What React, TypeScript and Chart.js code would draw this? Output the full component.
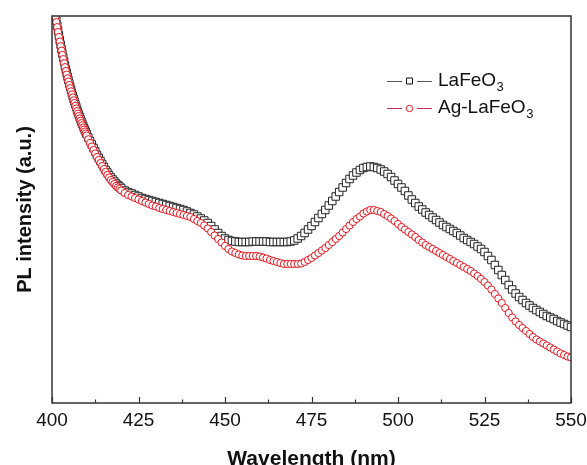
import React, { useEffect, useRef } from "react";
import { Chart, registerables } from "chart.js";

Chart.register(...registerables);

const FONT = "Arial, 'Liberation Sans', sans-serif";

// Wavelength (nm) – finer sampling where the curves fall steeply
const wavelengths = [
  400, 400.25, 400.5, 400.75, 401, 401.25, 401.5, 401.75, 402, 402.25, 402.5, 402.75,
  403, 403.25, 403.5, 403.75, 404, 404.25, 404.5, 404.75, 405, 405.25, 405.5, 405.75,
  406, 406.25, 406.5, 406.75, 407, 407.25, 407.5, 407.75, 408, 408.25, 408.5, 408.75,
  409, 409.25, 409.5, 409.75, 410, 410.5, 411, 411.5, 412, 412.5, 413, 413.5, 414, 414.5,
  415, 415.5, 416, 416.5, 417, 417.5, 418, 418.5, 419, 419.5, 420,
  421, 422, 423, 424, 425, 426, 427, 428, 429, 430, 431, 432, 433, 434, 435, 436, 437, 438, 439, 440,
  441, 442, 443, 444, 445, 446, 447, 448, 449, 450, 451, 452, 453, 454, 455, 456, 457, 458, 459, 460,
  461, 462, 463, 464, 465, 466, 467, 468, 469, 470, 471, 472, 473, 474, 475, 476, 477, 478, 479, 480,
  481, 482, 483, 484, 485, 486, 487, 488, 489, 490, 491, 492, 493, 494, 495, 496, 497, 498, 499, 500,
  501, 502, 503, 504, 505, 506, 507, 508, 509, 510, 511, 512, 513, 514, 515, 516, 517, 518, 519, 520,
  521, 522, 523, 524, 525, 526, 527, 528, 529, 530, 531, 532, 533, 534, 535, 536, 537, 538, 539, 540,
  541, 542, 543, 544, 545, 546, 547, 548, 549, 550,
];

// PL intensity (a.u.) of LaFeO3
const laFeO3 = [
  409.5, 403.8, 398.2, 392.8, 387.5, 382.4, 377.4, 372.4, 367.5, 362.9, 358.3, 353.9,
  349.5, 345.4, 341.3, 337.4, 333.5, 329.9, 326.3, 322.9, 319.5, 316.3, 313.2, 310.1,
  307, 304.2, 301.4, 298.7, 296, 293.4, 290.9, 288.4, 286, 283.7, 281.4, 279.2,
  277, 275, 273, 271, 269, 265.5, 262, 258.5, 255, 251.5, 248, 245, 242, 239,
  236, 233, 230.5, 228, 225.5, 223.5, 221.5, 219.5, 218, 216.5, 215,
  212.5, 211, 209.5, 208, 206.5, 205, 204, 203, 202, 201, 200, 199, 198, 197, 196, 195, 194, 193, 191.5, 190,
  188.5, 186.5, 184.5, 182.5, 180, 177, 173.5, 170, 167, 164.5, 163, 162, 161.5, 161, 161, 161, 161, 161.5, 161.5, 161.5,
  161.5, 161.5, 161, 161, 161, 161, 161, 161, 161.5, 162.5, 164.5, 167, 170, 173.5, 177, 181, 185, 189, 193, 197.5,
  202, 206.5, 211, 215.5, 220, 224, 227.5, 230.5, 233, 235, 236, 236.5, 236, 235, 233.5, 231.5, 229, 226, 222.5, 219,
  215.5, 212, 207.5, 203.5, 200, 196.5, 193.5, 190.5, 188, 185.5, 183, 180.5, 178, 176, 174, 172, 170, 167.5, 165, 163,
  161, 159, 156.5, 154, 151, 147, 143, 138, 133, 128, 123, 118, 113.5, 109.5, 106, 103, 100, 97.5, 95, 93,
  91, 89, 87, 85.5, 84, 82, 80.5, 79, 77.5, 76,
];

// PL intensity (a.u.) of Ag-LaFeO3
const agLaFeO3 = [
  408, 402.3, 396.7, 391.3, 386, 380.9, 375.9, 370.9, 366, 361.4, 356.8, 352.4,
  348, 343.9, 339.8, 335.9, 332, 328.4, 324.8, 321.4, 318, 314.8, 311.7, 308.6,
  305.5, 302.7, 299.9, 297.2, 294.5, 291.9, 289.4, 286.9, 284.5, 282.2, 279.9, 277.7,
  275.5, 273.5, 271.5, 269.5, 267.5, 263.7, 260, 256.5, 253, 249.5, 246, 243, 240, 237,
  234, 231, 228, 225.5, 223, 221, 219, 217, 215.5, 214, 212.5,
  210, 208, 206.5, 205, 203.5, 202, 200.5, 199, 197.5, 196.5, 195, 194, 193, 192, 191, 190, 189, 188, 187, 186,
  184, 182, 180, 177.5, 174.5, 171, 167.5, 164, 160.5, 157, 154, 151.5, 150, 148.5, 147.5, 147, 147, 147, 147, 146.5,
  145.5, 144.5, 143, 142, 141, 140, 139, 139, 139, 139, 139, 139.5, 141, 143, 145, 147.5, 150, 152.5, 155, 158,
  161, 164, 167, 170.5, 174, 177.5, 181, 184, 186.5, 189.5, 191.5, 193, 193, 192, 191, 189, 187, 184.5, 182, 179,
  176, 173.5, 171, 168.5, 166, 163, 160.5, 158, 156, 154, 152, 150, 148, 146, 144, 142, 140, 138, 136, 134,
  132, 129.5, 127, 124, 121, 117.5, 113.5, 109, 104.5, 100, 95, 90, 85.5, 81.5, 78, 75, 72, 69, 66, 63.5,
  61.5, 59.5, 57.5, 55.5, 53.5, 51.5, 49.5, 48, 46.5, 45.5,
];

const xMin = 400;
const xMax = 550;
const xStep = 25;
const yMin = 0;
const yMax = 387;

const seriesNames = ["LaFeO", "Ag-LaFeO"];
const seriesSub = "3";
const xTitle = "Wavelength (nm)";
const yTitle = "PL intensity (a.u.)";

const BLACK = "#111111";
const RED = "rgb(232,22,32)";

const framePlugin = {
  id: "frameTicks",
  afterDatasetsDraw(chart: any) {
    const { ctx, chartArea: a, scales } = chart;
    const x = scales.x;
    ctx.save();
    ctx.strokeStyle = "#333333";
    ctx.lineWidth = 1.5;
    ctx.strokeRect(a.left, a.top, a.right - a.left, a.bottom - a.top);
    ctx.lineWidth = 1.2;
    for (let v = xMin; v <= xMax + 0.001; v += xStep / 2) {
      const major = Math.abs((v - xMin) % xStep) < 0.001;
      const px = Math.round(x.getPixelForValue(v)) + 0.5;
      ctx.beginPath();
      ctx.moveTo(px, a.bottom);
      ctx.lineTo(px, a.bottom - (major ? 6 : 3.5));
      ctx.stroke();
    }
    ctx.restore();
  },
};

const legendPlugin = {
  id: "customLegend",
  afterDraw(chart: any) {
    const { ctx, chartArea: a } = chart;
    const x0 = a.right - 184;
    const rows = [
      { y: a.top + 65, color: BLACK, line: "#555555", style: "rect", name: seriesNames[0] },
      { y: a.top + 92, color: RED, line: "rgb(190,50,80)", style: "circle", name: seriesNames[1] },
    ];
    ctx.save();
    for (const r of rows) {
      ctx.strokeStyle = r.line;
      ctx.lineWidth = 1.2;
      ctx.beginPath();
      ctx.moveTo(x0, r.y + 0.5);
      ctx.lineTo(x0 + 15, r.y + 0.5);
      ctx.moveTo(x0 + 30, r.y + 0.5);
      ctx.lineTo(x0 + 45, r.y + 0.5);
      ctx.stroke();
      ctx.strokeStyle = r.color;
      ctx.fillStyle = "#ffffff";
      ctx.lineWidth = 1;
      ctx.beginPath();
      if (r.style === "rect") {
        ctx.rect(x0 + 19.5, r.y - 3, 6, 6);
      } else {
        ctx.arc(x0 + 22.5, r.y + 0.5, 3.2, 0, Math.PI * 2);
      }
      ctx.fill();
      ctx.stroke();
      ctx.fillStyle = "#111111";
      ctx.textBaseline = "middle";
      ctx.textAlign = "left";
      ctx.font = `19px ${FONT}`;
      const tx = x0 + 51;
      ctx.fillText(r.name, tx, r.y);
      const w = ctx.measureText(r.name).width;
      ctx.font = `13px ${FONT}`;
      ctx.fillText(seriesSub, tx + w + 0.5, r.y + 6);
    }
    ctx.restore();
  },
};

export default function App() {
  const canvasRef = useRef<HTMLCanvasElement | null>(null);

  useEffect(() => {
    const canvas = canvasRef.current;
    if (!canvas) return;
    const chart = new Chart(canvas, {
      type: "line",
      data: {
        datasets: [
          {
            label: seriesNames[1] + seriesSub,
            data: wavelengths.map((w, i) => ({ x: w, y: agLaFeO3[i] })),
            borderColor: RED,
            borderWidth: 1,
            pointStyle: "circle",
            pointRadius: 3.6,
            pointBorderWidth: 1,
            pointBorderColor: RED,
            pointBackgroundColor: "#ffffff",
            order: 0,
          },
          {
            label: seriesNames[0] + seriesSub,
            data: wavelengths.map((w, i) => ({ x: w, y: laFeO3[i] })),
            borderColor: BLACK,
            borderWidth: 1,
            pointStyle: "rect",
            pointRadius: 5.3,
            pointBorderWidth: 1,
            pointBorderColor: "#222222",
            pointBackgroundColor: "#ffffff",
            order: 1,
          },
        ],
      },
      options: {
        responsive: false,
        animation: false,
        events: [],
        layout: { padding: { top: 16, right: 16, left: 0, bottom: 0 } },
        plugins: {
          legend: { display: false },
          tooltip: { enabled: false },
        },
        scales: {
          x: {
            type: "linear",
            min: xMin,
            max: xMax,
            grid: { display: false, drawTicks: false },
            border: { display: false },
            ticks: {
              stepSize: xStep,
              autoSkip: false,
              maxRotation: 0,
              padding: 6,
              color: "#111111",
              font: { family: FONT, size: 19 },
              callback: (v: any) => String(v),
            },
            title: {
              display: true,
              text: xTitle,
              color: "#111111",
              font: { family: FONT, size: 21, weight: "bold" },
              padding: { top: 0, bottom: -7 },
            },
            afterFit: (s: any) => {
              s.height = 62;
              s.paddingLeft = 0;
              s.paddingRight = 0;
            },
          },
          y: {
            type: "linear",
            min: yMin,
            max: yMax,
            grid: { display: false, drawTicks: false },
            border: { display: false },
            ticks: { display: false },
            title: {
              display: true,
              text: yTitle,
              color: "#111111",
              font: { family: FONT, size: 20, weight: "bold" },
              padding: { top: 13, bottom: 0 },
            },
            afterFit: (s: any) => {
              s.width = 52;
            },
          },
        },
      },
      plugins: [framePlugin, legendPlugin],
    });
    return () => chart.destroy();
  }, []);

  return (
    <div style={{ position: "absolute", left: 0, top: 0, width: 587, height: 465, background: "#fff" }}>
      <canvas ref={canvasRef} width={587} height={465} />
    </div>
  );
}
